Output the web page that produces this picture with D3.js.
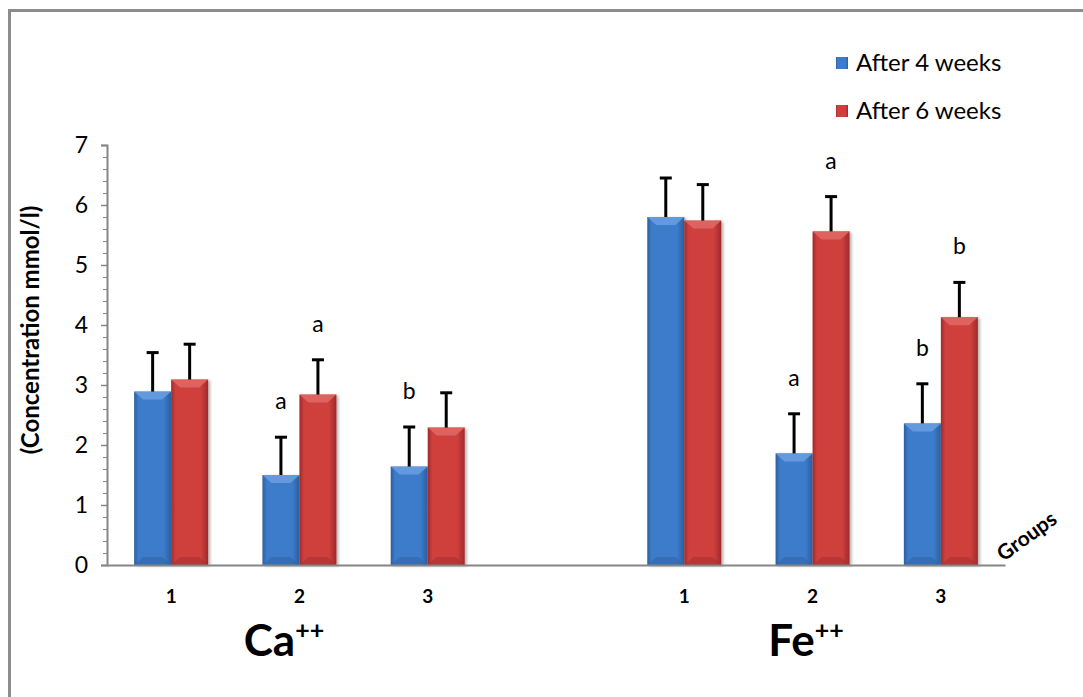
<!DOCTYPE html>
<html>
<head>
<meta charset="utf-8">
<script src="https://cdn.jsdelivr.net/npm/d3@7"></script>
<style>
  body { margin: 0; background: #fff; }
  text { font-family: Lato, "Open Sans", sans-serif; }
</style>
</head>
<body>
<div id="chart"></div>
<script>
// data
var groups = ["Ca-1", "Ca-2", "Ca-3", "", "Fe-1", "Fe-2", "Fe-3"];
var groupLabels = ["1", "2", "3", "", "1", "2", "3"];
var series = ["After 4 weeks", "After 6 weeks"];
var week4 = [2.89, 1.50, 1.64, null, 5.80, 1.86, 2.36];
var week6 = [3.09, 2.84, 2.29, null, 5.74, 5.56, 4.13];
var sd4 = [0.65, 0.63, 0.66, null, 0.65, 0.66, 0.66];
var sd6 = [0.59, 0.58, 0.58, null, 0.60, 0.58, 0.58];
var letters4 = ["", "a", "b", "", "", "a", "b"];
var letters6 = ["", "a", "", "", "", "a", "b"];
var ions = [{name: "Ca", x: 284}, {name: "Fe", x: 806}];

var W = 1083, H = 697;
var margin = {left: 107, top: 145, right: 78, bottom: 132};
var width = W - margin.left - margin.right,
    height = H - margin.top - margin.bottom;

var svg = d3.select("#chart").append("svg")
    .attr("width", W).attr("height", H);

// frame
svg.append("rect")
    .attr("x", 9.5).attr("y", 10.5)
    .attr("width", W + 20).attr("height", H + 20)
    .attr("fill", "none").attr("stroke", "#8c8c8c").attr("stroke-width", 3);

var defs = svg.append("defs");
function grad(id, edge, mid) {
  var g = defs.append("linearGradient").attr("id", id)
      .attr("x1", 0).attr("x2", 1).attr("y1", 0).attr("y2", 0);
  g.append("stop").attr("offset", "0%").attr("stop-color", edge);
  g.append("stop").attr("offset", "12%").attr("stop-color", mid);
  g.append("stop").attr("offset", "80%").attr("stop-color", mid);
  g.append("stop").attr("offset", "100%").attr("stop-color", edge);
}
grad("gBlue", "#2c5e9e", "#3d7ccb");
grad("gRed", "#9e2a2a", "#cf3f3e");
var f = defs.append("filter").attr("id", "shadow")
    .attr("x", "-20%").attr("y", "-5%").attr("width", "150%").attr("height", "115%");
f.append("feDropShadow").attr("dx", 2).attr("dy", 1).attr("stdDeviation", 1.5)
    .attr("flood-color", "#000").attr("flood-opacity", 0.3);

var g = svg.append("g").attr("transform", "translate(" + margin.left + "," + margin.top + ")");

var x = d3.scaleBand().domain(groups).range([0, width]).padding(0);
var y = d3.scaleLinear().domain([0, 7]).range([height, 0]);
var sub = d3.scaleBand().domain(series).range([-37, 37]);

// y axis minor ticks
g.append("g")
    .call(d3.axisLeft(y).tickValues(d3.range(0, 7.01, 0.2)).tickSize(4).tickFormat(""))
    .call(function(s) {
      s.select(".domain").remove();
      s.selectAll("line").attr("stroke", "#868686").attr("stroke-width", 1);
    });
// y axis major
g.append("g")
    .call(d3.axisLeft(y).ticks(7).tickSize(6).tickPadding(13))
    .call(function(s) {
      s.select(".domain").attr("stroke", "#868686").attr("stroke-width", 2);
      s.selectAll("line").attr("stroke", "#868686").attr("stroke-width", 1.5);
      s.selectAll("text").attr("font-size", 23).attr("fill", "#000");
    });

// bars
var rows = [];
groups.forEach(function(c, i) {
  if (week4[i] == null) return;
  rows.push({c: c, s: series[0], v: week4[i], sd: sd4[i], letter: letters4[i], col: "Blue"});
  rows.push({c: c, s: series[1], v: week6[i], sd: sd6[i], letter: letters6[i], col: "Red"});
});

var bars = g.selectAll(".bar").data(rows).enter().append("g").attr("class", "bar")
    .attr("transform", function(d) {
      return "translate(" + (x(d.c) + x.bandwidth() / 2 + sub(d.s)) + ",0)";
    });
var bw = sub.bandwidth();
bars.append("rect")
    .attr("y", function(d) { return y(d.v); })
    .attr("width", bw)
    .attr("height", function(d) { return height - y(d.v); })
    .attr("fill", function(d) { return "url(#g" + d.col + ")"; })
    .attr("filter", "url(#shadow)");
// top bevel
bars.append("path")
    .attr("d", function(d) {
      var t = y(d.v);
      return "M0," + t + "L" + bw + "," + t + "L" + (bw - 9) + "," + (t + 8) + "L9," + (t + 8) + "Z";
    })
    .attr("fill", function(d) { return d.col == "Blue" ? "#6a9fe0" : "#e06a66"; })
    .attr("opacity", 0.85);
// bottom bevel
bars.append("path")
    .attr("d", function(d) {
      var b = height;
      return "M0," + b + "L" + bw + "," + b + "L" + (bw - 9) + "," + (b - 8) + "L9," + (b - 8) + "Z";
    })
    .attr("fill", function(d) { return d.col == "Blue" ? "#2f65a8" : "#a93030"; })
    .attr("opacity", 0.6);

// error bars
bars.append("line")
    .attr("x1", bw / 2).attr("x2", bw / 2)
    .attr("y1", function(d) { return y(d.v); })
    .attr("y2", function(d) { return y(d.v + d.sd); })
    .attr("stroke", "#000").attr("stroke-width", 3);
bars.append("line")
    .attr("x1", bw / 2 - 6).attr("x2", bw / 2 + 6)
    .attr("y1", function(d) { return y(d.v + d.sd); })
    .attr("y2", function(d) { return y(d.v + d.sd); })
    .attr("stroke", "#000").attr("stroke-width", 3);
bars.append("text")
    .attr("x", bw / 2)
    .attr("y", function(d) { return y(d.v + d.sd) - 28; })
    .attr("text-anchor", "middle")
    .attr("font-size", 23).attr("fill", "#000")
    .text(function(d) { return d.letter; });

// x axis
g.append("g")
    .attr("transform", "translate(0," + height + ")")
    .call(d3.axisBottom(x).tickSize(0).tickPadding(25).tickFormat(function(d, i) { return groupLabels[i]; }))
    .call(function(s) {
      s.select(".domain").attr("stroke", "#868686").attr("stroke-width", 2);
      s.selectAll("text").attr("font-size", 19).attr("font-weight", "bold").attr("fill", "#000");
    });

// ion labels
ions.forEach(function(ion) {
  var t = svg.append("text")
      .attr("x", ion.x).attr("y", 656)
      .attr("text-anchor", "middle")
      .attr("font-size", 44).attr("font-weight", "bold");
  t.append("tspan").text(ion.name);
  t.append("tspan").attr("font-size", 25).attr("dy", -17).text("++");
});

// axis titles
svg.append("text")
    .attr("transform", "translate(39,330)rotate(-90)")
    .attr("text-anchor", "middle")
    .attr("font-size", 24).attr("font-weight", "bold")
    .text("(Concentration mmol/l)");
svg.append("text")
    .attr("transform", "translate(1031,542)rotate(-36)")
    .attr("text-anchor", "middle")
    .attr("font-size", 21).attr("font-weight", "bold")
    .text("Groups");

// legend
var leg = svg.selectAll(".leg").data(series).enter().append("g").attr("class", "leg")
    .attr("transform", function(d, i) { return "translate(836," + (57 + i * 48) + ")"; });
leg.append("rect").attr("width", 12).attr("height", 12)
    .attr("fill", function(d, i) { return i == 0 ? "url(#gBlue)" : "url(#gRed)"; });
leg.append("text").attr("x", 20).attr("y", 6).attr("dy", "0.35em")
    .attr("font-size", 24).text(function(d) { return d; });
</script>
</body>
</html>
